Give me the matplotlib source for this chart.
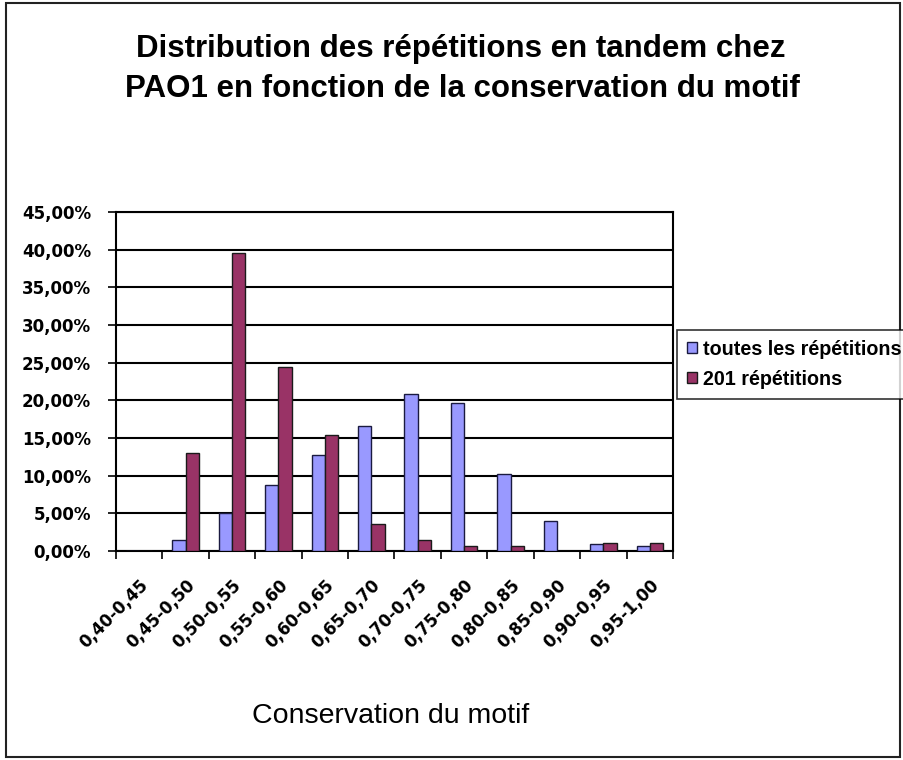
import matplotlib.pyplot as plt
import numpy as np
from matplotlib.patches import Rectangle
from matplotlib.transforms import ScaledTranslation

plt.rcParams['font.family'] = ['Liberation Sans', 'DejaVu Sans']

categories = ['0,40-0,45', '0,45-0,50', '0,50-0,55', '0,55-0,60', '0,60-0,65', '0,65-0,70',
              '0,70-0,75', '0,75-0,80', '0,80-0,85', '0,85-0,90', '0,90-0,95', '0,95-1,00']
toutes = [0.0, 1.45, 5.1, 8.7, 12.7, 16.6, 20.9, 19.6, 10.2, 4.0, 0.9, 0.65]
rep201 = [0.0, 12.95, 39.55, 24.45, 15.45, 3.65, 1.45, 0.65, 0.65, 0.0, 1.1, 1.1]
yticks = np.arange(0, 50, 5)

fig = plt.figure(figsize=(9.04, 7.6), dpi=100)
ax = fig.add_axes([116/904, 1-551/760, (673-116)/904, (551-212)/760])

x = np.arange(len(categories)) + 0.5
w = 1 / 3.5
ax.bar(x - w/2, toutes, w, color='#9999FF', edgecolor='#1a1a40', linewidth=1, label='toutes les répétitions', zorder=3)
ax.bar(x + w/2, rep201, w, color='#993366', edgecolor='#1a1a1a', linewidth=1, label='201 répétitions', zorder=3)

tickfont = {'family': 'DejaVu Sans', 'weight': 'bold', 'size': 12}

ax.set_xlim(0, len(categories))
ax.set_ylim(0, 45)
ax.set_yticks(yticks)
ax.set_yticklabels(['%d,00%%' % v for v in yticks], fontdict=tickfont)
ax.yaxis.grid(True, color='black', linewidth=1.5, zorder=0)
ax.set_axisbelow(True)

# category boundaries get the ticks, labels sit at the centres
ax.set_xticks(np.arange(len(categories) + 1))
ax.set_xticklabels([])
ax.set_xticks(x, minor=True)
ax.set_xticklabels(categories, minor=True, rotation=45, ha='right', rotation_mode='anchor',
                   fontdict=tickfont)
shift = ScaledTranslation(-14/100, 0, fig.dpi_scale_trans)
for lab in ax.get_xticklabels(minor=True):
    lab.set_transform(lab.get_transform() + shift)
ax.tick_params(axis='x', which='minor', length=0, pad=18)
ax.tick_params(axis='x', which='major', length=6, width=1.2, direction='out')
ax.tick_params(axis='y', length=6, width=1.2, direction='out', pad=12)
for s in ax.spines.values():
    s.set_linewidth(1.5)
    s.set_color('black')

fig.text(391/904, 1-723/760, 'Conservation du motif', ha='center', va='baseline', fontsize=20.5)
fig.text(461/904, 1-57/760, 'Distribution des répétitions en tandem chez',
         ha='center', va='baseline', fontsize=22.5, fontweight='bold')
fig.text(462/904, 1-97/760, 'PAO1 en fonction de la conservation du motif',
         ha='center', va='baseline', fontsize=22.5, fontweight='bold')

leg = fig.legend(loc='upper left', bbox_to_anchor=(677/904, 1-330/760), frameon=True, fancybox=False,
                 edgecolor='black', prop={'weight': 'bold', 'size': 14.2}, handlelength=0.5,
                 handleheight=0.5, handletextpad=0.3, borderpad=0.5, labelspacing=0.55,
                 borderaxespad=0)
leg.get_frame().set_linewidth(1.2)

fig.patches.append(Rectangle((6/904, 3/760), 894/904, 754/760, transform=fig.transFigure,
                             fill=False, edgecolor='#222222', linewidth=1.5))

fig.savefig('out.png', dpi=100)
